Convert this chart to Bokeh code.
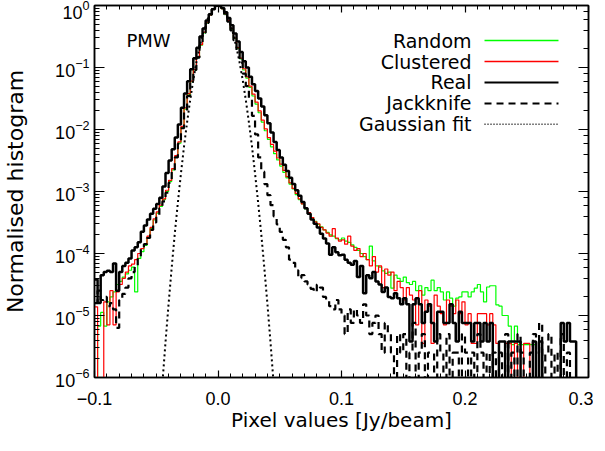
import numpy as np
from bokeh.plotting import figure
from bokeh.models import (LinearAxis, LogAxis, FixedTicker, LogTicker,
                          CustomJSTickFormatter, Label, Range1d)
from bokeh.embed import file_html
from bokeh.resources import INLINE

# ---------------- data (log10 of normalised histogram; None = empty bin) ----------------
BIN_START = -0.1
BIN_WIDTH = 0.0025

random_log = [
    None, -5.17, -4.95, -5.17, -4.78, -4.7, -4.62, -4.5, -4.45, -4.38, -4.33, -4.27, -4.22, -4.62, -4.08, -3.97,
    -3.87, -3.74, -3.6, -3.46, -3.35, -3.24, -3.13, -3.0, -2.84, -2.65, -2.44, -2.22, -1.97, -1.67, -1.44, -1.23,
    -1.04, -0.84, -0.64, -0.44, -0.28, -0.15, -0.06, 0.0, -0.005, -0.05, -0.14, -0.25, -0.38, -0.53, -0.69, -0.86,
    -1.04, -1.17, -1.32, -1.46, -1.59, -1.73, -1.88, -2.02, -2.16, -2.28, -2.39, -2.49, -2.59, -2.69, -2.78, -2.88,
    -2.96, -3.05, -3.13, -3.2, -3.28, -3.35, -3.42, -3.48, -3.53, -3.57, -3.62, -3.66, -3.7, -3.72, -3.76, -3.78,
    -3.75, -3.8, -3.82, -3.86, -3.9, -3.95, -4.0, -4.05, -4.1, -3.88, -4.12, -4.2, -4.22, -4.28, -4.32, -4.3,
    -4.56, -4.35, -4.4, -4.45, -4.38, -4.47, -4.5, -4.45, -4.6, -4.52, -4.67, -4.55, -4.6, -4.43, -4.6, -4.55,
    -4.62, -4.75, -4.62, -4.72, -4.85, -4.72, -4.7, -4.62, -4.62, -4.7, -4.62, -4.56, -4.5, -4.62, -4.78, -4.54,
    -4.52, -4.52, -4.83, -4.85, -5.0, -5.0, -5.17, -5.47, -5.17, -5.47, -5.47, -5.47, -5.47, -5.47, -5.47, None,
    None, None, None, None, None, None, None, None, None, None, None, None, None, None, None, None,
]

clustered_log = [
    -4.86, None, None, -4.78, -5.15, -4.6, -5.15, -4.62, -4.5, -4.4, -4.3, -4.2, -4.17, -4.1, -4.0, -3.92,
    -3.85, -3.72, -3.58, -3.44, -3.33, -3.22, -3.12, -2.98, -2.82, -2.63, -2.42, -2.2, -1.95, -1.65, -1.42, -1.22,
    -1.03, -0.83, -0.63, -0.43, -0.27, -0.15, -0.06, 0.0, -0.005, -0.05, -0.13, -0.24, -0.37, -0.52, -0.68, -0.85,
    -1.02, -1.15, -1.3, -1.43, -1.56, -1.7, -1.85, -1.99, -2.13, -2.24, -2.35, -2.46, -2.56, -2.66, -2.76, -2.86,
    -2.95, -3.03, -3.12, -3.2, -3.27, -3.34, -3.42, -3.49, -3.52, -3.58, -3.62, -3.67, -3.72, -3.6, -3.75, -3.8,
    -3.78, -3.85, -3.72, -3.88, -3.95, -3.92, -4.05, -4.0, -4.1, -4.2, -4.05, -4.3, -4.2, -4.55, -4.25, -4.35,
    -4.3, -4.6, -4.45, -4.55, -4.75, -4.55, -4.67, -4.75, -5.15, -4.6, -5.45, -4.75, -4.85, -5.45, -4.67, -4.85,
    -4.97, -5.15, -4.75, -4.85, -4.97, -4.75, -4.97, -4.78, -5.15, -4.97, -5.45, -5.45, -4.97, -4.97, -4.97, -5.15,
    -4.97, -5.15, -5.45, None, None, -5.45, -5.45, None, -5.45, None, None, -5.45, -5.45, None, None, None,
    None, None, None, None, None, None, None, None, None, None, None, None, None, None, None, None,
]

real_log = [
    -4.42, -4.8, -4.35, -4.3, -4.28, -4.3, -4.16, -4.6, -4.3, -4.2, -4.15, -4.08, -3.95, -3.9, -3.82, -3.65,
    -3.55, -3.45, -3.36, -3.28, -3.2, -3.1, -2.92, -2.7, -2.5, -2.32, -2.13, -1.92, -1.65, -1.42, -1.22, -1.03,
    -0.85, -0.68, -0.5, -0.37, -0.24, -0.14, -0.06, 0.0, -0.005, -0.04, -0.11, -0.2, -0.32, -0.45, -0.58, -0.75,
    -0.9, -1.0, -1.15, -1.27, -1.38, -1.5, -1.63, -1.77, -1.9, -2.05, -2.2, -2.33, -2.45, -2.57, -2.67, -2.78,
    -2.88, -2.98, -3.07, -3.17, -3.27, -3.36, -3.45, -3.52, -3.58, -3.68, -3.76, -3.84, -4.02, -3.9, -3.98, -4.03,
    -4.02, -4.1, -4.15, -4.18, -4.12, -4.38, -4.2, -4.64, -4.35, -4.4, -4.3, -4.45, -4.5, -4.62, -4.55, -4.7,
    -4.72, -4.64, -4.72, -4.82, -4.72, -4.82, -5.42, -4.82, -4.72, -4.82, -5.12, -4.94, -4.82, -5.12, -5.42, -4.94,
    -4.94, -5.12, -5.12, -4.82, -5.12, -5.42, -4.94, -5.12, -5.12, -5.12, -5.42, -5.12, -5.12, -5.42, -5.12, -5.42,
    -5.12, None, None, -5.42, -5.42, None, -5.42, -5.42, -5.42, -5.42, None, None, None, None, -5.42, None,
    -5.42, None, None, None, None, None, None, -5.12, -5.42, -5.12, -5.42, -5.42, None, None, None, None,
]

jackknife_log = [
    -4.8, -4.6, -4.75, -4.7, -4.85, -4.8, -4.9, -5.2, -4.75, -4.65, -4.55, -4.4, -4.3, -4.2, -4.05, -3.92,
    -3.85, -3.75, -3.62, -3.5, -3.38, -3.27, -3.16, -3.02, -2.86, -2.66, -2.45, -2.23, -1.98, -1.7, -1.46, -1.24,
    -1.04, -0.84, -0.64, -0.44, -0.28, -0.15, -0.06, 0.0, -0.005, -0.05, -0.14, -0.26, -0.4, -0.56, -0.73, -0.92,
    -1.1, -1.3, -1.5, -1.78, -2.08, -2.45, -2.68, -2.88, -3.06, -3.22, -3.4, -3.53, -3.65, -3.78, -3.9, -4.1,
    -4.15, -4.27, -4.4, -4.35, -4.45, -4.5, -4.57, -4.62, -4.5, -4.55, -4.7, -4.75, -4.85, -4.9, -4.75, -4.9,
    -5.0, -5.3, -4.9, -5.12, -4.9, -5.0, -5.12, -4.82, -5.0, -5.3, -5.12, -5.0, -5.3, -5.6, -5.12, -5.3,
    -5.6, None, -5.3, -5.6, -5.3, None, -5.6, -5.12, None, -5.6, -5.3, None, -5.6, -5.6, None, -5.3,
    -5.6, None, -5.3, None, -5.6, -5.6, None, -5.3, -5.6, None, -5.6, None, -5.3, -5.6, None, -5.6,
    None, -5.6, None, -5.6, None, -5.3, None, -5.6, None, -5.3, -5.6, None, None, -5.6, -5.3, -5.6,
    -5.12, None, -5.6, -5.3, None, -5.6, None, -5.3, None, -5.6, None, None, None, None, None, None,
]

gauss_x = [-0.05, -0.0475, -0.045, -0.0425, -0.04, -0.0375, -0.035, -0.0325, -0.03, -0.0275,
           -0.025, -0.0225, -0.02, -0.0175, -0.015, -0.0125, -0.01, -0.0075, -0.005, -0.0025,
           0.0, 0.0025, 0.005, 0.0075, 0.01, 0.0125, 0.015, 0.0175, 0.02, 0.0225,
           0.025, 0.0275, 0.03, 0.0325, 0.035, 0.0375, 0.04, 0.0425, 0.045, 0.0475, 0.05]
gauss_log = [-7.51, -6.78, -6.09, -5.43, -4.81, -4.23, -3.68, -3.18, -2.71, -2.27,
             -1.88, -1.52, -1.2, -0.92, -0.68, -0.47, -0.3, -0.17, -0.075, -0.019,
             0.0, -0.019, -0.075, -0.17, -0.3, -0.47, -0.68, -0.92, -1.2, -1.52,
             -1.88, -2.27, -2.71, -3.18, -3.68, -4.23, -4.81, -5.43, -6.09, -6.78, -7.51]

x_major_ticks = [-0.1, 0.0, 0.1, 0.2, 0.3]
x_minor_ticks = [round(-0.1 + 0.01 * i, 2) for i in range(41)]

legend_names = ["Random", "Clustered", "Real", "Jackknife", "Gaussian fit"]

FLOOR = 1e-9


def hist_outline(logvals):
    v = np.array([FLOOR if l is None else 10.0 ** l for l in logvals])
    edges = BIN_START + BIN_WIDTH * np.arange(len(v) + 1)
    xs = np.repeat(edges, 2)[1:-1]
    ys = np.repeat(v, 2)
    return xs, ys


p = figure(frame_width=494, frame_height=372,
           x_range=Range1d(-0.1, 0.3), y_range=Range1d(1e-6, 1.0),
           y_axis_type="log", output_backend="svg", toolbar_location=None,
           background_fill_color="white", border_fill_color="white")
p.xgrid.visible = False
p.ygrid.visible = False
p.outline_line_color = "black"
p.outline_line_width = 1.5

TICK_FONT = "Liberation Sans"
TEXT_FONT = "DejaVu Sans"

blank_fmt = CustomJSTickFormatter(code="return '';")


def style_axis(ax, major_in, minor_in, labels=True):
    ax.major_tick_in = major_in
    ax.major_tick_out = 0
    ax.minor_tick_in = minor_in
    ax.minor_tick_out = 0
    ax.axis_line_color = "black"
    ax.axis_line_width = 1.5
    ax.major_tick_line_color = "black"
    ax.minor_tick_line_color = "black"
    ax.major_tick_line_width = 1.2
    ax.minor_tick_line_width = 1
    ax.major_label_text_color = "black"
    ax.major_label_text_font = TICK_FONT
    ax.major_label_text_font_size = "18px"
    if not labels:
        ax.formatter = blank_fmt


xticker = FixedTicker(ticks=x_major_ticks, minor_ticks=x_minor_ticks)
xfmt = CustomJSTickFormatter(code="return (tick < -1e-9 ? '\\u2212' : '') + Math.abs(tick).toFixed(1);")

xa = p.xaxis[0]
xa.ticker = xticker
xa.formatter = xfmt
style_axis(xa, 7, 4)
xa.major_label_standoff = 14
xa.axis_label = "Pixel values [Jy/beam]"
xa.axis_label_standoff = 0
xa.axis_label_text_font = TEXT_FONT
xa.axis_label_text_font_size = "20px"
xa.axis_label_text_font_style = "normal"
xa.axis_label_text_color = "black"

ya = p.yaxis[0]
style_axis(ya, 10, 5)
ya.major_label_standoff = 5
ya.axis_label = "Normalised histogram"
ya.axis_label_standoff = 24
ya.axis_label_text_font = TEXT_FONT
ya.axis_label_text_font_size = "22px"
ya.axis_label_text_font_style = "normal"
ya.axis_label_text_color = "black"

top = LinearAxis(ticker=FixedTicker(ticks=x_major_ticks, minor_ticks=x_minor_ticks))
style_axis(top, 7, 4, labels=False)
p.add_layout(top, "above")

right = LogAxis(ticker=LogTicker())
style_axis(right, 10, 5, labels=False)
right.major_label_standoff = 10
p.add_layout(right, "right")

# ---------------- histograms ----------------
xs, ys = hist_outline(random_log)
p.line(xs, ys, line_color="#00ff00", line_width=1.2)
xs, ys = hist_outline(clustered_log)
p.line(xs, ys, line_color="#ff0000", line_width=1.2)
xs, ys = hist_outline(real_log)
p.line(xs, ys, line_color="black", line_width=2.5)
xs, ys = hist_outline(jackknife_log)
p.line(xs, ys, line_color="black", line_width=2.2, line_dash="7 5")
p.line(gauss_x, [10.0 ** g for g in gauss_log], line_color="black", line_width=2, line_dash="2 3")

# ---------------- legend (drawn manually: text right, sample on the right) ----------------
leg_text_x = 0.2053
leg_x0, leg_x1 = 0.2158, 0.2757
leg_y = [0.2716, 0.1247, 0.0574, 0.02636, 0.01213]
leg_styles = [dict(line_color="#00ff00", line_width=1.5),
              dict(line_color="#ff0000", line_width=1.5),
              dict(line_color="black", line_width=2),
              dict(line_color="black", line_width=2, line_dash="7 5"),
              dict(line_color="black", line_width=1.5, line_dash="1 2")]
for name, yv, st in zip(legend_names, leg_y, leg_styles):
    p.add_layout(Label(x=leg_text_x, y=yv, text=name, text_align="right", text_baseline="middle",
                       text_font=TEXT_FONT, text_font_size="19px", text_color="black"))
    p.line([leg_x0, leg_x1], [yv, yv], **st)

p.add_layout(Label(x=-0.0741, y=0.2767, text="PMW", text_align="left", text_baseline="middle",
                   text_font=TEXT_FONT, text_font_size="18px", text_color="black"))

open("out.html", "w").write(file_html(p, INLINE, title="PMW histogram"))
